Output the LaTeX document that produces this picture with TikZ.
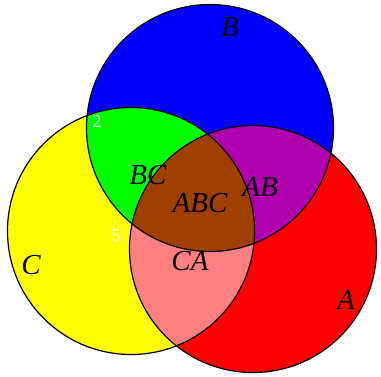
\documentclass[tikz,border=0pt]{standalone}
\usepackage{fontspec}
\setmainfont{Liberation Serif}
\definecolor{vennA}{HTML}{FF0000}
\definecolor{vennB}{HTML}{0000FF}
\definecolor{vennC}{HTML}{FFFF00}
\definecolor{vennAB}{HTML}{B000B0}
\definecolor{vennBC}{HTML}{00FF00}
\definecolor{vennCA}{HTML}{FF8080}
\definecolor{vennABC}{HTML}{A04000}
\tikzset{
  setlabel/.style={font=\fontsize{29}{32}\selectfont\itshape, inner sep=0pt},
  countlabel/.style={font=\fontsize{18}{20}\selectfont, text=white, inner sep=0pt}
}
\begin{document}
\begin{tikzpicture}[x=1pt, y=-1pt]

      \def\R{123.5}
      \useasboundingbox (0,0) rectangle (381,376);

      \coordinate (cA) at (253,249);
      \coordinate (cB) at (210,128);
      \coordinate (cC) at (131,231);

      % single sets
      \foreach \c/\col in {cA/vennA, cB/vennB, cC/vennC}{
        \fill[\col] (\c) circle (\R);
      }

      % pairwise overlaps
      \foreach \c/\d/\col in {cA/cB/vennAB, cB/cC/vennBC, cC/cA/vennCA}{
        \begin{scope}
          \clip (\c) circle (\R);
          \fill[\col] (\d) circle (\R);
        \end{scope}
      }

      % triple overlap
      \begin{scope}
        \clip (cA) circle (\R);
        \clip (cB) circle (\R);
        \fill[vennABC] (cC) circle (\R);
      \end{scope}

      \foreach \c in {cA,cB,cC}{
        \draw[line width=1.2pt] (\c) circle (\R);
      }

      \node[setlabel] (labB)   at (230,27)  {B};
      \node[setlabel] (labC)   at (31,265)  {C};
      \node[setlabel] (labA)   at (346,300) {A};
      \node[setlabel] (labBC)  at (148,175) {BC};
      \node[setlabel] (labAB)  at (260,187) {AB};
      \node[setlabel] (labABC) at (200,203) {ABC};
      \node[setlabel] (labCA)  at (190,261) {CA};

      \node[countlabel] (numBC) at (97,122)  {2};
      \node[countlabel] (numC)  at (116,236) {5};

\end{tikzpicture}
\end{document}
